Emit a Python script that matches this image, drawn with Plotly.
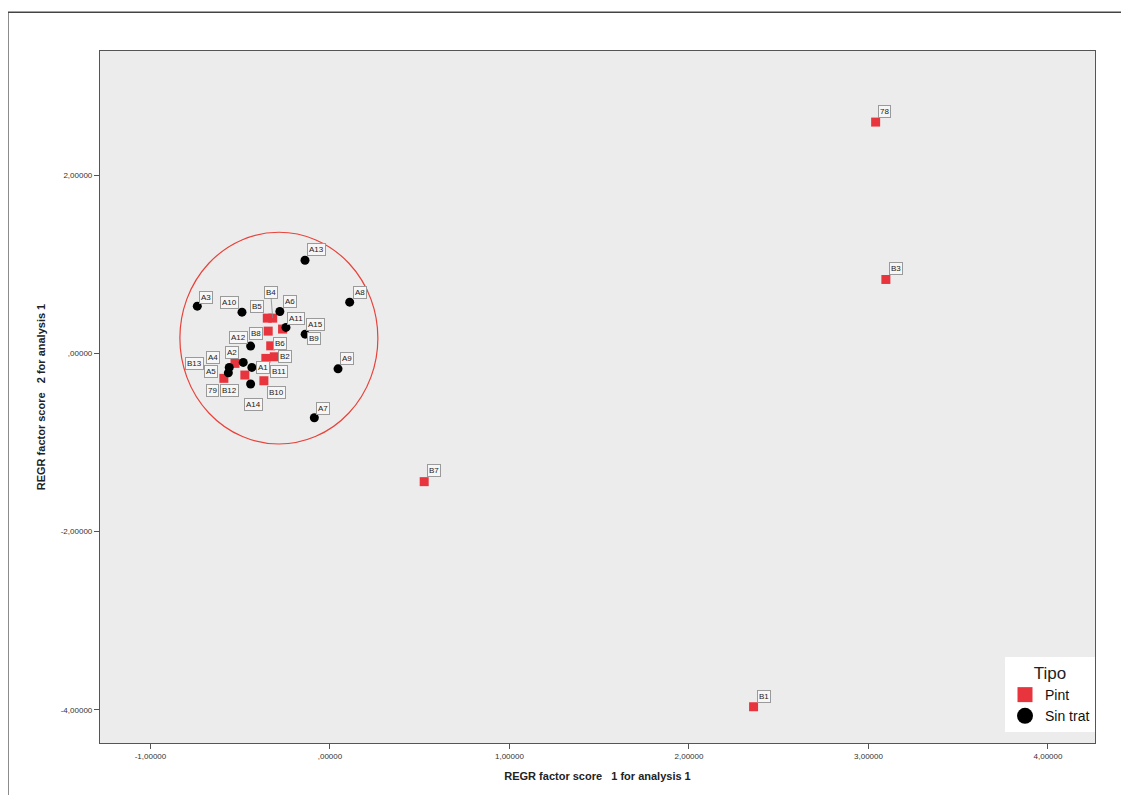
import plotly.graph_objects as go

# ---- data ----
pint_labels = ["B4", "B5", "B8", "B9", "B6", "B2", "B11", "B10", "B12", "79", "B13",
               "78", "B3", "B7", "B1"]
pint_x = [-0.319, -0.349, -0.344, -0.264, -0.330, -0.310, -0.357, -0.368, -0.474, -0.591, -0.529,
          3.040, 3.097, 0.525, 2.360]
pint_y = [0.396, 0.396, 0.250, 0.273, 0.085, -0.038, -0.056, -0.307, -0.243, -0.280, -0.112,
          2.597, 0.830, -1.440, -3.967]

sin_labels = ["A13", "A3", "A10", "A6", "A8", "A11", "A15", "A12", "A9", "A7",
              "A1", "A2", "A4", "A5", "A14"]
sin_x = [-0.139, -0.739, -0.490, -0.279, 0.110, -0.245, -0.138, -0.442, 0.045, -0.087,
         -0.435, -0.483, -0.561, -0.566, -0.442]
sin_y = [1.046, 0.530, 0.463, 0.471, 0.575, 0.292, 0.216, 0.082, -0.173, -0.722,
         -0.157, -0.101, -0.157, -0.218, -0.344]

x_tickvals = [-1, 0, 1, 2, 3, 4]
x_ticktext = ["-1,00000", ",00000", "1,00000", "2,00000", "3,00000", "4,00000"]
y_tickvals = [2, 0, -2, -4]
y_ticktext = ["2,00000", ",00000", "-2,00000", "-4,00000"]

# highlighted cluster ellipse (data extents)
ellipse_x = [-0.836, 0.267]
ellipse_y = [-1.017, 1.360]

# label offsets in pixels (style only)
label_offsets = {
    "A13": (11, -11), "A3": (9, -9), "A10": (-12, -10), "B5": (-10, -12), "B4": (-2, -26),
    "A6": (10, -10), "A8": (10, -10), "A11": (10, -9), "A15": (10, -10), "B9": (31, 9),
    "A12": (-12, -9), "B8": (-12, 2), "B6": (9, -2), "B2": (11, 0), "A9": (9, -10),
    "A7": (9, -9), "A2": (-11, -10), "A4": (-16, -10), "B13": (-40, 0), "A5": (-17, -1),
    "A1": (11, 0), "B11": (13, 13), "79": (-11, 12), "B12": (-15, 15), "B10": (13, 12),
    "A14": (3, 20), "78": (9, -11), "B3": (10, -11), "B7": (10, -11), "B1": (10, -10),
}

RED = "#e8353d"
FONT = "Liberation Sans, Arial, sans-serif"

fig = go.Figure()

fig.add_trace(go.Scatter(
    x=pint_x, y=pint_y, mode="markers", name="Pint", showlegend=False,
    marker=dict(symbol="square", size=9, color=RED, line=dict(width=0)),
))
fig.add_trace(go.Scatter(
    x=sin_x, y=sin_y, mode="markers", name="Sin trat", showlegend=False,
    marker=dict(symbol="circle", size=9, color="black", line=dict(width=0)),
))
# legend entries (larger symbols as in the reference)
fig.add_trace(go.Scatter(
    x=[None], y=[None], mode="markers", name="Pint",
    marker=dict(symbol="square", size=15, color=RED, line=dict(width=0)),
))
fig.add_trace(go.Scatter(
    x=[None], y=[None], mode="markers", name="Sin trat",
    marker=dict(symbol="circle", size=16, color="black", line=dict(width=0)),
))

annotations = []
for labs, xs, ys in ((pint_labels, pint_x, pint_y), (sin_labels, sin_x, sin_y)):
    for lab, xv, yv in zip(labs, xs, ys):
        dx, dy = label_offsets.get(lab, (10, -10))
        annotations.append(dict(
            x=xv, y=yv, xref="x", yref="y", text=lab, showarrow=True,
            ax=dx, ay=dy, arrowhead=0, arrowwidth=0.8,
            arrowcolor="#888888" if lab == "B4" else "rgba(0,0,0,0)",
            font=dict(family=FONT, size=8, color="#222222"),
            bgcolor="#f6f6f6", bordercolor="#9a9a9a", borderwidth=1, borderpad=1,
        ))

shapes = [
    dict(type="circle", xref="x", yref="y",
         x0=ellipse_x[0], x1=ellipse_x[1], y0=ellipse_y[0], y1=ellipse_y[1],
         line=dict(color="#e8423a", width=1.2)),
    # outer frame of the exported figure
    dict(type="rect", xref="paper", yref="paper",
         x0=-0.0925, x1=1.3, y0=-0.3, y1=1.056,
         line=dict(color="#444444", width=1.3), layer="below"),
]

fig.update_layout(
    width=1129, height=795,
    margin=dict(l=92, r=42, t=43, b=60),
    paper_bgcolor="white",
    plot_bgcolor="#ececec",
    font=dict(family=FONT, color="#333333"),
    shapes=shapes,
    annotations=annotations,
    showlegend=True,
    legend=dict(
        x=1, xanchor="right", y=0.016, yanchor="bottom",
        bgcolor="white", borderwidth=0,
        title=dict(text="Tipo", side="top center", font=dict(size=17, color="#222222")),
        font=dict(size=14, color="#111111"),
        itemwidth=30, tracegroupgap=0,
    ),
    xaxis=dict(
        range=[-1.281, 4.262], tickvals=x_tickvals, ticktext=x_ticktext,
        showgrid=False, zeroline=False, showline=True, mirror=True,
        linecolor="#555555", linewidth=1.2,
        ticks="outside", ticklen=5, tickcolor="#555555",
        tickfont=dict(size=8, color="#333333"),
        title=dict(text="<b>REGR factor score\u00a0\u00a0\u00a01 for analysis 1</b>",
                   font=dict(size=11, color="#222222"), standoff=12),
    ),
    yaxis=dict(
        range=[-4.374, 3.395], tickvals=y_tickvals, ticktext=y_ticktext,
        showgrid=False, zeroline=False, showline=True, mirror=True,
        linecolor="#555555", linewidth=1.2,
        ticks="outside", ticklen=5, tickcolor="#555555",
        tickfont=dict(size=8, color="#333333"),
        title=dict(text="<b>REGR factor score\u00a0\u00a0\u00a02 for analysis 1</b>",
                   font=dict(size=11, color="#222222"), standoff=12),
    ),
)

fig.write_html("out.html")
